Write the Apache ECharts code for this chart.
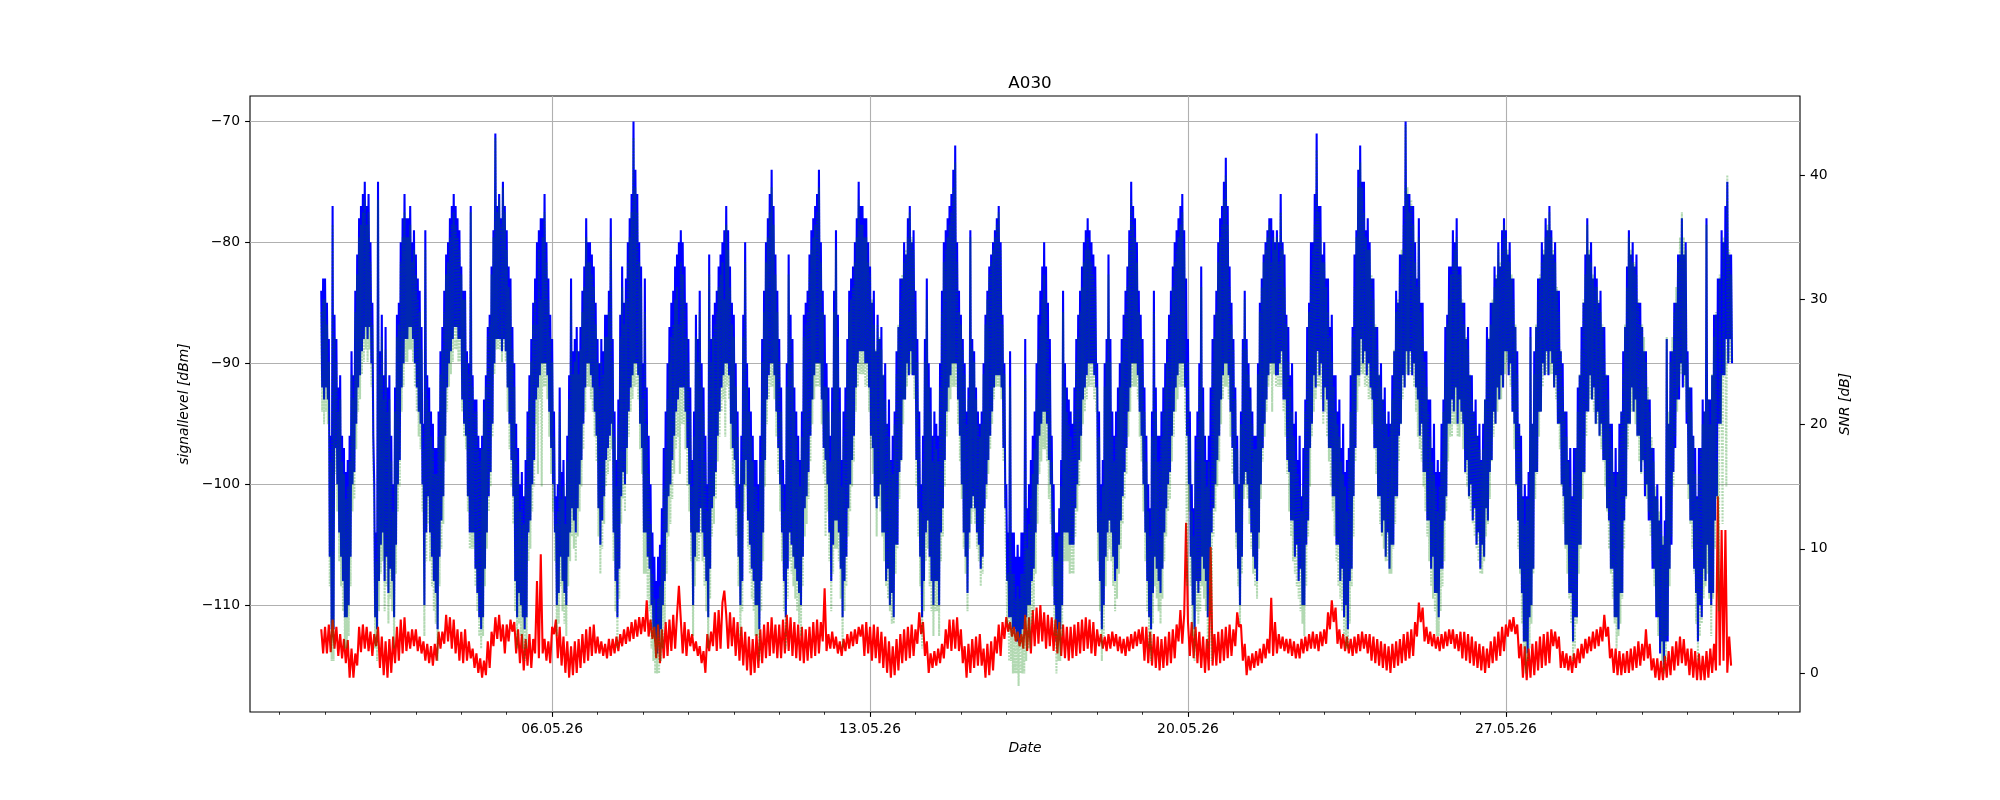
<!DOCTYPE html>
<html lang="en">
<head>
<meta charset="UTF-8">
<title>A030</title>
<script src="https://cdn.jsdelivr.net/npm/echarts@6/dist/echarts.min.js"></script>
<style>
  html, body { margin: 0; padding: 0; background: #fff; }
  #main { width: 2000px; height: 800px; }
</style>
</head>
<body>
<div id="main"></div>
<script type="text/javascript">
  // hourly readings, first one at 30.04.26 22:00
  // each hour has the upper and the lower value of the signal inside that hour
  var seriesStart = new Date(2026, 3, 30, 22, 0).getTime();
  var hour = 3600 * 1000;

  // signal level [dBm], upper value per hour (one row per day)
  var signalHigh = [
    -84,-83,
    -83,-85,-88,-96,-77,-86,-88,-92,-91,-96,-97,-99,-98,-96,-89,-91,-84,-81,-78,-77,-76,-75,-77,-76,
    -80,-85,-100,-104,-75,-89,-86,-91,-87,-92,-91,-96,-100,-92,-86,-85,-80,-78,-76,-78,-78,-77,-80,-79,
    -81,-83,-84,-87,-95,-79,-91,-92,-94,-95,-97,-97,-94,-89,-87,-84,-81,-80,-78,-77,-76,-77,-78,-79,
    -82,-84,-84,-89,-90,-77,-91,-93,-93,-96,-97,-96,-93,-91,-87,-86,-82,-79,-71,-77,-76,-78,-75,-77,
    -79,-82,-83,-87,-90,-95,-97,-100,-99,-101,-98,-94,-91,-88,-85,-83,-80,-79,-78,-78,-76,-80,-83,-86,
    -88,-94,-101,-100,-92,-99,-98,-101,-96,-91,-83,-89,-88,-87,-89,-87,-84,-82,-78,-80,-80,-81,-82,-85,
    -88,-90,-88,-89,-86,-86,-84,-78,-88,-94,-98,-93,-86,-82,-85,-83,-80,-78,-76,-70,-74,-76,-80,-82,
    -90,-83,-92,-96,-100,-104,-106,-108,-106,-105,-102,-97,-94,-90,-87,-85,-84,-82,-81,-80,-79,-80,-82,-85,
    -88,-92,-98,-94,-86,-88,-84,-90,-92,-96,-100,-81,-88,-86,-85,-84,-82,-81,-80,-79,-77,-79,-82,-85,
    -86,-90,-94,-100,-96,-86,-80,-90,-92,-94,-96,-98,-98,-100,-96,-88,-84,-80,-78,-76,-74,-77,-81,-84,
    -88,-92,-98,-100,-90,-81,-86,-88,-92,-94,-96,-98,-94,-86,-85,-84,-81,-79,-78,-77,-76,-74,-80,-84,
    -86,-90,-92,-96,-92,-84,-79,-86,-92,-98,-94,-92,-88,-84,-83,-82,-80,-78,-75,-77,-77,-78,-78,-80,
    -82,-85,-84,-89,-86,-88,-87,-91,-90,-95,-93,-98,-96,-94,-89,-87,-83,-83,-80,-81,-78,-77,-80,-79,
    -84,-88,-94,-100,-96,-88,-83,-90,-92,-96,-94,-95,-96,-90,-84,-80,-79,-78,-77,-76,-74,-72,-80,-84,
    -86,-88,-90,-94,-92,-79,-88,-89,-92,-94,-95,-94,-90,-86,-84,-82,-81,-80,-79,-78,-77,-80,-86,-90,
    -100,-104,-89,-104,-104,-106,-105,-106,-104,-104,-88,-102,-100,-98,-96,-94,-90,-86,-84,-82,-80,-82,-85,-88,
    -96,-100,-104,-104,-102,-98,-84,-90,-92,-93,-94,-95,-92,-88,-86,-84,-82,-80,-79,-78,-79,-80,-81,-82,
    -90,-94,-100,-98,-90,-88,-81,-88,-94,-96,-94,-92,-90,-88,-86,-84,-82,-79,-75,-77,-78,-80,-84,-86,
    -88,-92,-96,-100,-102,-94,-84,-92,-96,-96,-94,-92,-90,-88,-86,-84,-82,-80,-79,-78,-77,-76,-79,-83,
    -88,-94,-100,-102,-96,-94,-90,-82,-92,-96,-98,-96,-92,-88,-86,-84,-80,-78,-77,-75,-73,-77,-82,-85,
    -88,-92,-96,-100,-94,-88,-84,-88,-90,-92,-94,-96,-96,-90,-85,-83,-81,-80,-79,-78,-78,-79,-80,-79,
    -80,-76,-80,-81,-86,-87,-91,-90,-95,-94,-98,-96,-101,-97,-93,-87,-85,-80,-80,-76,-71,-77,-77,-81,
    -80,-83,-83,-87,-86,-91,-91,-94,-93,-97,-95,-99,-98,-97,-91,-87,-81,-79,-74,-72,-75,-75,-79,-78,
    -80,-83,-83,-87,-87,-91,-90,-93,-92,-95,-94,-95,-91,-89,-84,-85,-81,-81,-77,-70,-76,-76,-77,-77,
    -80,-83,-78,-85,-85,-89,-89,-93,-93,-97,-95,-99,-98,-99,-95,-93,-87,-86,-82,-82,-79,-80,-78,-82,
    -82,-85,-85,-88,-87,-91,-91,-94,-93,-96,-95,-98,-95,-93,-87,-88,-85,-85,-82,-83,-80,-82,-79,-78,
    -79,-81,-80,-83,-83,-87,-89,-95,-96,-101,-100,-101,-99,-87,-95,-89,-87,-83,-83,-80,-81,-78,-79,-77,
    -79,-81,-80,-84,-84,-89,-90,-94,-94,-98,-97,-101,-97,-97,-92,-91,-87,-85,-81,-78,-81,-80,-83,-82,
    -83,-85,-84,-87,-87,-91,-91,-95,-95,-99,-97,-99,-95,-94,-89,-87,-82,-79,-81,-80,-82,-81,-85,-85,
    -87,-89,-89,-93,-93,-97,-97,-101,-100,-103,-101,-105,-103,-88,-95,-89,-89,-85,-85,-81,-81,-78,-81,-80,
    -89,-92,-92,-96,-97,-101,-97,-97,-93,-94,-78,-93,-93,-91,-86,-86,-83,-83,-79,-80,-77,-75,-81,-81
  ];

  // signal level [dBm], lower value per hour
  var signalLow = [
    -92,-93,
    -92,-93,-106,-112,-112,-97,-100,-104,-106,-108,-111,-111,-110,-106,-100,-99,-95,-92,-91,-89,-88,-87,-88,-87,
    -90,-96,-111,-112,-108,-105,-104,-108,-106,-109,-107,-108,-111,-105,-100,-98,-92,-90,-88,-88,-87,-87,-88,-90,
    -92,-94,-95,-100,-110,-104,-101,-104,-106,-108,-109,-112,-106,-103,-101,-96,-92,-90,-89,-88,-87,-87,-88,-88,
    -93,-95,-96,-101,-104,-104,-104,-107,-109,-111,-112,-111,-107,-104,-101,-99,-95,-90,-88,-88,-88,-89,-88,-89,
    -92,-95,-98,-101,-108,-111,-109,-110,-111,-112,-111,-104,-103,-100,-98,-93,-92,-91,-90,-90,-90,-91,-94,-97,
    -100,-104,-110,-109,-106,-108,-109,-110,-106,-104,-102,-103,-104,-102,-100,-98,-95,-92,-90,-90,-91,-92,-94,-96,
    -102,-105,-103,-101,-98,-97,-96,-95,-104,-108,-111,-107,-101,-99,-100,-97,-94,-92,-91,-90,-90,-91,-95,-97,
    -104,-104,-106,-107,-110,-112,-113,-114,-113,-112,-110,-108,-104,-101,-100,-98,-96,-94,-93,-92,-92,-92,-94,-97,
    -100,-104,-110,-106,-104,-104,-102,-104,-106,-108,-111,-107,-102,-101,-99,-96,-94,-92,-91,-90,-90,-91,-95,-97,
    -98,-102,-106,-110,-108,-100,-98,-103,-105,-107,-108,-110,-110,-112,-108,-104,-98,-93,-91,-90,-90,-91,-94,-97,
    -100,-104,-108,-111,-107,-104,-105,-106,-107,-108,-109,-110,-106,-102,-101,-99,-96,-93,-91,-90,-90,-90,-93,-97,
    -98,-100,-104,-108,-105,-103,-103,-104,-107,-111,-108,-106,-102,-100,-98,-96,-92,-90,-89,-89,-89,-90,-90,-92,
    -96,-97,-101,-102,-101,-100,-104,-104,-108,-107,-110,-109,-111,-105,-105,-99,-98,-93,-93,-90,-91,-89,-91,-91,
    -98,-102,-106,-111,-108,-104,-103,-106,-108,-110,-108,-108,-110,-104,-102,-98,-94,-92,-91,-90,-90,-90,-93,-96,
    -100,-104,-106,-109,-104,-102,-101,-102,-104,-105,-107,-106,-102,-100,-98,-96,-94,-92,-91,-91,-91,-92,-97,-102,
    -108,-111,-111,-112,-112,-113,-113,-113,-112,-112,-111,-110,-110,-108,-107,-104,-100,-96,-95,-94,-94,-95,-98,-100,
    -106,-110,-113,-112,-112,-110,-104,-104,-104,-105,-105,-105,-102,-100,-98,-96,-93,-92,-91,-90,-90,-90,-91,-92,
    -104,-108,-112,-110,-106,-104,-103,-104,-106,-108,-107,-105,-103,-101,-99,-97,-94,-92,-90,-90,-90,-91,-94,-96,
    -100,-104,-108,-111,-112,-109,-106,-107,-108,-109,-107,-104,-102,-100,-99,-96,-94,-92,-91,-90,-90,-90,-92,-96,
    -100,-106,-110,-112,-108,-109,-108,-106,-107,-108,-111,-108,-104,-102,-100,-98,-96,-93,-91,-90,-90,-91,-94,-97,
    -100,-104,-107,-110,-106,-100,-99,-100,-102,-104,-106,-107,-108,-104,-100,-97,-95,-93,-91,-90,-90,-90,-91,-91,
    -90,-89,-93,-93,-98,-99,-103,-103,-106,-105,-108,-107,-110,-110,-105,-103,-97,-95,-91,-92,-89,-91,-90,-94,
    -92,-93,-97,-97,-101,-101,-105,-105,-108,-107,-111,-110,-112,-108,-107,-101,-97,-91,-91,-88,-90,-89,-91,-90,
    -92,-93,-97,-97,-101,-101,-104,-103,-106,-104,-107,-105,-105,-101,-101,-96,-95,-91,-92,-89,-91,-89,-91,-90,
    -92,-93,-96,-95,-99,-99,-103,-103,-107,-106,-109,-109,-111,-107,-107,-103,-101,-95,-95,-93,-94,-92,-95,-93,
    -94,-95,-99,-98,-101,-100,-103,-102,-105,-104,-107,-105,-106,-102,-103,-99,-98,-94,-95,-92,-93,-91,-92,-89,
    -89,-91,-90,-94,-95,-100,-103,-107,-109,-113,-113,-114,-111,-110,-107,-99,-99,-94,-94,-90,-91,-89,-91,-89,
    -90,-92,-91,-95,-95,-100,-101,-105,-105,-109,-109,-113,-111,-111,-105,-105,-99,-99,-94,-94,-91,-93,-92,-95,
    -94,-96,-95,-98,-98,-102,-103,-107,-107,-111,-111,-112,-109,-109,-103,-101,-95,-95,-92,-94,-93,-96,-96,-99,
    -98,-101,-100,-103,-103,-107,-107,-111,-111,-114,-113,-115,-113,-113,-107,-105,-99,-97,-93,-93,-90,-92,-91,-95,
    -100,-103,-103,-107,-109,-113,-110,-111,-107,-108,-105,-109,-110,-109,-103,-101,-95,-95,-91,-91,-88,-90,-88,-90
  ];

  // noise level [dBm], one reading per hour
  var noiseLevel = [
    -112,-114,
    -111.8,-114,-111.6,-113.9,-111.2,-113.6,-111.8,-114.2,-112.4,-114.4,-112.8,-114.8,-112.9,-116,-113.6,-116,-114,-115,-111.8,-113.9,-111.6,-113.6,-111.8,-113.8,
    -112.2,-114.2,-112.4,-113.4,-111.8,-115.2,-112.6,-115.8,-113,-116,-112.8,-115.6,-112.6,-114.8,-111.8,-114.6,-111.2,-114,-111,-113.8,-112.2,-113.6,-112,-113.4,
    -112,-113.8,-112.6,-114,-113,-114.6,-113.2,-114.8,-113.4,-115,-113.2,-114.6,-112.2,-113.6,-112.2,-113.2,-110.8,-113,-111,-113.6,-111.2,-114,-112,-114.6,
    -112.2,-114.8,-112,-114.6,-113,-114.4,-113.6,-115.2,-114,-115.6,-114.4,-116,-114.6,-115.8,-113,-115.2,-112.2,-113.4,-111,-112.8,-110.8,-113,-111.6,-114,
    -111.6,-113,-111.2,-112.2,-111.4,-114,-112,-114.8,-112.4,-115.4,-112.8,-115,-112.4,-115.2,-112.8,-114,-108,-114.4,-105.8,-114,-112.8,-114.6,-113,-114.8,
    -111.8,-112.4,-111.2,-114.4,-111.8,-115,-112.6,-115.6,-113,-116,-113.4,-115.8,-113,-115.6,-112.8,-115.2,-112.4,-114.8,-112,-114.6,-111.8,-114.2,-111.6,-114,
    -112.6,-114,-113,-114.2,-113.2,-114.4,-112.8,-114.2,-112.8,-114,-112.6,-113.8,-112.4,-113.4,-112,-113.2,-111.8,-113,-111.4,-112.8,-111.2,-112.6,-111,-112.4,
    -111,-112.2,-109.6,-112.6,-111.2,-112.8,-111.8,-114.4,-111.6,-114.8,-112,-114.4,-111.4,-114.2,-111.2,-113.8,-110.8,-113.6,-110.8,-108.4,-111.2,-114,-111.4,-114.2,
    -112,-113.4,-112.4,-113.8,-113,-114.2,-113.4,-114.8,-113.8,-115.6,-112.4,-113.8,-112.2,-113.4,-110.6,-113.8,-110.4,-113.6,-109.8,-108.8,-110.8,-113.6,-110.6,-113.4,
    -111,-114.2,-111.4,-114.6,-111.8,-115,-112.2,-115.4,-112.6,-115.8,-112.8,-115.6,-112.4,-115.2,-112,-114.8,-111.6,-114.4,-111.4,-114.2,-111,-114,-111.6,-114.4,
    -111.6,-114.4,-111.2,-114,-110.8,-113.8,-111,-114.2,-111.4,-114.4,-111.6,-114.6,-111.8,-114.8,-112,-114.6,-111.8,-114.4,-111.4,-114.2,-111.2,-114,-111.4,-113,
    -108.6,-113.8,-112.4,-113.6,-112.2,-113.6,-112.6,-114,-113,-114.2,-112.8,-113.8,-112.4,-113.6,-112.2,-113.4,-112,-113.2,-111.8,-112.6,-111.6,-114.2,-111.4,-114,
    -111.8,-114.6,-111.6,-114.4,-111.8,-114.8,-112.2,-115.2,-112.6,-115.6,-113,-116,-113.4,-115.8,-112.8,-115.4,-112.4,-114.8,-112,-114.6,-111.8,-114.4,-111.6,-114.2,
    -112,-113.2,-110.6,-112.4,-111.4,-114.2,-113,-115.6,-114,-115.2,-113.8,-115,-113.6,-114.8,-113.2,-114.4,-112,-113.6,-111.2,-113.8,-111.2,-113.6,-111,-113.8,
    -112,-114.8,-113.4,-116,-113.2,-115.6,-112.8,-115.2,-112.6,-115,-112.4,-115,-113.6,-116,-113.2,-115.8,-113,-115.4,-112.6,-114,-111.6,-114.2,-111.4,-112.8,
    -111,-112.2,-111.4,-112.6,-111.8,-113,-112.2,-113.4,-112.4,-113.6,-110.8,-113.8,-111,-114,-110.4,-113.4,-110.2,-113.2,-110,-113,-110.6,-113.6,-110.8,-113.4,
    -111,-113.8,-111.2,-114,-111.4,-114.2,-111.6,-114.4,-111.8,-114.6,-111.8,-114.4,-111.6,-114.2,-111.4,-114,-111.2,-113.8,-111,-113.6,-111.2,-114,-111.4,-114.2,
    -112,-113.4,-112.4,-113.6,-112.6,-113.8,-112.4,-113.6,-112.2,-113.4,-112.4,-113.8,-112.6,-114,-112.8,-114.2,-112.6,-113.8,-112.4,-113.6,-112.2,-113.4,-112,-113.2,
    -111.8,-114.6,-111.8,-114.8,-112.2,-115,-112.4,-115.2,-112.6,-115.4,-112.8,-115.2,-112.6,-115,-112.2,-114.8,-112,-114.4,-111.6,-113,-110.4,-113.2,-110.8,-103.2,
    -111.4,-114.2,-111.4,-114.4,-111.8,-114.8,-112.2,-115.2,-112.6,-115.6,-112.8,-115.4,-105.2,-115,-112.4,-115,-112.2,-114.8,-112,-114.6,-111.8,-114.4,-111.6,-114.2,
    -112,-113.4,-110.6,-111.8,-111.6,-114.6,-113.2,-115.8,-114.2,-115.4,-114,-115.2,-113.8,-115,-113.6,-114.8,-113.2,-114.4,-112.8,-114,-109.4,-114.2,-111.4,-114,
    -112.4,-113.6,-112.6,-113.8,-112.8,-114,-112.8,-114.2,-113,-114.4,-113.2,-114.4,-112.8,-114,-112.6,-113.8,-112.4,-113.6,-112.2,-113.6,-112.4,-113.8,-112.2,-113.4,
    -112,-113.2,-110.6,-112,-109.6,-111.4,-110.2,-113.2,-112,-113.6,-112.4,-113.8,-112.6,-114,-112.8,-114.2,-112.6,-114,-112.4,-113.8,-112.2,-113.6,-112.4,-114,
    -112.4,-114.6,-112.6,-114.8,-112.8,-115,-113,-115.2,-113.2,-115.4,-113.4,-115.6,-113.2,-115.2,-113,-115,-112.8,-114.8,-112.4,-114.6,-112.2,-114.4,-112,-114.2,
    -111.4,-112.6,-109.8,-111.4,-110.2,-113,-111.8,-113.2,-112.2,-113.4,-112.4,-113.6,-112.6,-113.8,-112.4,-113.6,-112.2,-113.4,-112,-113.2,-112,-113.6,-112.4,-113.8,
    -112.2,-114.4,-112.2,-114.6,-112.4,-114.8,-112.6,-115,-113,-115.2,-113.2,-115.4,-113.4,-115.6,-113.6,-115.2,-113,-114.8,-112.6,-114.6,-112.2,-114.2,-111.8,-113.8,
    -111.6,-112.6,-111.2,-112.2,-111,-112.4,-111.6,-114.4,-113.2,-116,-113.4,-116.2,-113.6,-116,-113.2,-115.8,-113,-115.4,-112.6,-115.2,-112.4,-115,-112.2,-114.8,
    -112,-113.4,-112.2,-113.6,-112.6,-115.2,-113.8,-115.2,-114,-115.4,-114.2,-115.6,-114,-115.2,-113.6,-114.8,-113.2,-114.4,-112.8,-114,-112.6,-113.8,-112.2,-113.6,
    -112,-113.4,-111.8,-113,-110.8,-112.6,-111.8,-114.4,-113.6,-115.6,-113.6,-115.8,-113.8,-115.8,-114,-115.6,-113.8,-115.6,-113.6,-115.4,-113.4,-115.2,-113,-115,
    -113.2,-114.6,-112,-114.4,-113.2,-115.4,-114.4,-116,-114.4,-116.2,-114.6,-116.2,-114.2,-116,-113.8,-115.8,-113.4,-115.4,-113,-115,-112.6,-114.8,-112.8,-115,
    -113.6,-115.8,-113.6,-116,-113.8,-116.2,-114,-116.2,-114.2,-116.2,-113.8,-116,-113.6,-115.6,-113.2,-115.4,-101,-115,-103.8,-114.6,-103.8,-115.6,-112.6,-115
  ];

  // SNR [dB], upper value per hour
  var snrHigh = [
    29,30,
    30,28,25,17,36,27,25,21,22,17,16,14,15,17,24,22,29,32,35,36,37,38,36,37,
    33,28,13,9,38,24,27,22,26,21,22,17,13,21,27,28,33,35,37,35,35,36,33,34,
    32,30,29,26,18,34,22,21,19,18,16,16,19,24,26,29,32,33,35,36,37,36,35,34,
    32,30,30,25,24,37,23,21,21,18,17,18,21,23,27,28,32,35,43,37,38,36,39,37,
    34,31,30,26,23,18,16,13,14,12,15,19,22,25,28,30,28,34,30,35,37,33,30,27,
    25,19,12,13,21,14,15,12,17,22,30,24,25,26,24,26,29,31,35,33,33,32,31,28,
    25,23,25,24,27,27,29,35,25,19,15,20,27,31,28,30,33,35,37,43,39,37,33,31,
    22,29,20,16,12,8,6,4,6,7,10,15,18,22,25,27,28,30,31,28,33,32,30,27,
    25,21,15,19,27,25,29,23,21,17,13,32,25,27,28,29,31,32,33,30,36,34,31,28,
    27,23,19,13,17,27,33,23,21,19,17,15,15,13,17,25,29,33,35,37,39,36,32,29,
    25,21,15,13,23,32,27,25,21,19,17,15,19,27,28,29,32,34,35,36,37,39,33,29,
    23,23,21,17,21,29,34,27,21,15,19,21,25,29,30,31,33,35,38,36,36,35,35,33,
    32,30,28,26,28,27,26,24,22,20,19,17,16,20,24,28,30,32,33,34,35,37,35,34,
    29,25,19,13,17,25,30,23,21,17,19,18,17,23,29,33,34,35,36,37,39,41,33,29,
    28,26,24,20,22,35,26,25,22,20,19,20,24,28,30,32,33,34,35,36,37,34,28,24,
    12,8,23,8,8,6,7,6,8,8,24,10,12,14,16,18,22,26,28,30,32,30,27,24,
    17,13,9,9,11,15,29,23,21,20,19,18,21,25,27,29,31,33,34,35,34,33,32,31,
    23,19,13,15,23,25,32,25,19,17,19,21,23,25,27,29,31,34,38,36,35,33,29,27,
    25,21,17,13,11,19,29,21,17,17,19,21,23,25,27,29,31,33,34,35,36,37,34,20,
    25,19,13,11,17,19,23,31,21,17,15,17,13,25,27,29,33,35,36,38,40,36,31,28,
    26,22,18,14,20,26,30,26,24,22,20,18,18,24,29,31,33,34,35,36,33,35,34,35,
    33,37,34,31,28,25,23,21,19,17,16,15,13,15,21,25,29,32,34,36,42,37,35,33,
    33,31,29,27,25,23,21,20,19,17,16,15,13,17,21,27,31,35,39,41,39,37,35,34,
    34,32,30,28,26,24,23,22,21,20,19,20,22,26,29,30,32,34,36,44,39,37,38,36,
    33,31,35,29,27,25,23,21,19,17,16,15,13,15,17,21,25,28,30,32,33,34,35,32,
    32,30,28,27,26,24,22,21,20,19,18,17,18,22,26,27,28,30,31,32,34,33,34,36,
    35,34,33,32,30,28,24,20,17,14,12,14,14,27,20,24,28,30,32,33,34,35,36,37,
    35,34,33,31,29,26,23,21,19,17,15,14,16,18,21,24,26,30,32,36,34,33,32,31,
    31,30,29,28,26,24,22,20,18,16,15,16,18,21,24,28,31,35,34,33,33,32,30,28,
    28,27,25,23,21,19,17,15,14,13,12,11,11,27,21,25,27,29,31,33,35,37,35,34,
    25,23,21,19,16,14,16,18,20,21,36,22,20,24,27,29,17,32,24,35,26,40,34,32
  ];

  // SNR [dB], lower value per hour
  var snrLow = [
    21,20,
    21,20,7,1,1,16,13,9,7,5,2,2,3,7,13,14,18,21,22,24,25,26,25,26,
    23,17,2,1,5,8,9,5,7,4,6,5,2,8,13,15,21,23,25,25,26,26,25,23,
    21,19,18,13,3,9,12,9,7,5,4,1,7,10,12,17,21,23,24,25,26,26,25,25,
    21,19,18,13,10,10,10,7,5,3,2,3,7,10,13,15,19,24,26,26,26,25,26,25,
    21,18,15,12,5,2,4,3,2,1,2,9,10,13,15,20,16,22,15,23,23,22,19,16,
    13,9,3,4,7,5,4,3,7,9,11,10,9,11,13,15,18,21,23,23,22,21,19,17,
    11,8,10,12,15,16,17,18,9,5,2,6,12,14,13,16,19,21,22,23,23,22,18,16,
    8,8,6,5,2,1,0,0,0,1,2,4,8,11,12,14,16,18,19,16,20,20,18,15,
    13,9,3,7,9,9,11,9,7,5,2,6,11,12,14,17,19,21,22,19,23,22,18,16,
    15,11,7,3,5,13,15,10,8,6,5,3,3,1,5,9,15,20,22,23,23,22,19,16,
    13,9,5,2,6,9,8,7,6,5,4,3,7,11,12,14,17,20,22,23,23,23,20,16,
    11,13,9,5,8,10,10,9,6,2,5,7,11,13,15,17,21,23,24,24,24,23,23,21,
    18,16,14,11,14,13,11,9,7,6,5,4,4,8,10,14,17,20,22,23,24,24,24,22,
    15,11,7,2,5,9,10,7,5,3,5,5,3,9,11,15,19,21,22,23,23,23,20,17,
    14,10,8,5,10,12,13,12,10,9,7,8,12,14,16,18,20,22,23,23,23,22,17,12,
    4,1,1,0,0,0,-1,0,0,0,1,2,2,4,5,8,12,16,17,18,18,17,14,12,
    7,3,0,1,1,3,9,9,9,8,8,8,11,13,15,17,20,21,22,23,23,23,22,21,
    9,5,1,3,7,9,10,9,7,5,6,8,10,12,14,16,19,21,23,23,23,22,19,17,
    13,9,5,2,1,4,7,6,5,4,6,9,11,13,14,17,19,21,22,23,23,23,21,7,
    13,7,3,1,5,4,5,7,6,5,2,5,1,11,13,15,17,20,22,23,23,22,19,16,
    14,10,7,4,8,14,15,14,12,10,8,7,6,10,14,17,19,21,23,24,21,24,23,23,
    23,23,21,19,16,13,11,9,8,7,6,5,4,3,7,11,15,19,21,22,23,23,22,20,
    21,19,17,15,13,11,9,7,6,5,3,2,2,4,7,11,17,21,23,24,24,23,23,22,
    22,20,18,16,14,12,11,10,9,9,8,8,10,12,14,17,20,22,23,24,24,24,24,23,
    21,19,18,17,15,13,11,9,7,6,5,3,3,5,7,9,13,17,19,19,20,20,19,19,
    20,18,16,15,14,13,12,11,10,9,8,8,9,11,12,14,17,19,20,21,22,22,23,24,
    25,24,23,21,18,15,10,8,4,2,0,1,2,4,8,14,16,19,21,23,24,24,24,24,
    24,23,22,20,18,15,12,10,8,6,4,1,2,4,8,10,14,16,19,21,22,22,21,20,
    20,19,18,17,15,13,10,8,6,4,2,3,4,6,10,14,18,20,21,21,20,19,17,16,
    17,15,14,13,11,9,7,5,3,2,1,0,1,3,7,11,15,19,21,23,24,24,23,21,
    14,12,10,8,4,1,3,4,6,7,8,6,3,6,10,14,5,20,12,24,15,25,25,25
  ];

  // axis ticks
  var weekTicks = [new Date(2026, 4, 6).getTime(), new Date(2026, 4, 13).getTime(),
                   new Date(2026, 4, 20).getTime(), new Date(2026, 4, 27).getTime()];
  var leftTicks = [-110, -100, -90, -80, -70];
  var rightTicks = [0, 10, 20, 30, 40];

  var xMin = new Date(2026, 3, 29, 8, 21).getTime();
  var xMax = new Date(2026, 5, 2, 11, 25).getTime();

  // daily minor ticks
  var dayTicks = [];
  for (var d = new Date(2026, 3, 30); d.getTime() < xMax; d = new Date(d.getFullYear(), d.getMonth(), d.getDate() + 1)) {
    dayTicks.push(d.getTime());
  }

  // upper value on the full hour, lower value half an hour later
  function zigzag(high, low) {
    var out = [];
    for (var i = 0; i < high.length; i++) {
      out.push([seriesStart + i * hour, high[i]]);
      out.push([seriesStart + i * hour + hour / 2, low[i]]);
    }
    return out;
  }
  function toPairs(values) {
    return values.map(function (v, i) { return [seriesStart + i * hour, v]; });
  }
  function pad(n) { return n < 10 ? '0' + n : '' + n; }
  function dateLabel(v) {
    var d = new Date(v);
    return pad(d.getDate()) + '.' + pad(d.getMonth() + 1) + '.' + String(d.getFullYear()).slice(2);
  }
  function minus(v) { return v < 0 ? '\u2212' + Math.abs(v) : '' + v; }

  var font = 'DejaVu Sans';
  var tickLine = { color: '#000', width: 1.1 };
  var labelStyle = { color: '#000', fontSize: 13.9, fontFamily: font };
  var nameStyle = { color: '#000', fontSize: 13.9, fontFamily: font, fontStyle: 'italic' };

  var chartDom = document.getElementById('main');
  var myChart = echarts.init(chartDom, null, { renderer: 'canvas' });
  var option;

  option = {
    animation: false,
    backgroundColor: '#fff',
    title: {
      text: 'A030',
      left: 1025,
      top: 70,
      textAlign: 'center',
      textStyle: { color: '#000', fontSize: 16.7, fontWeight: 'normal', fontFamily: font }
    },
    grid: {
      left: 250, right: 200, top: 96, bottom: 88,
      show: true, borderColor: '#000', borderWidth: 1.1, backgroundColor: 'transparent'
    },
    xAxis: [
      {
        type: 'value', position: 'bottom', min: xMin, max: xMax,
        axisLine: { show: false, onZero: false },
        axisTick: { show: true, customValues: dayTicks, length: 2.8, lineStyle: { color: '#000', width: 0.8 } },
        axisLabel: { show: false },
        splitLine: { show: false }
      },
      {
        type: 'value', position: 'bottom', offset: 0, min: xMin, max: xMax,
        name: 'Date', nameLocation: 'middle', nameGap: 29, nameTextStyle: nameStyle,
        axisLine: { show: false, onZero: false },
        axisTick: { show: true, customValues: weekTicks, length: 4.9, lineStyle: tickLine },
        axisLabel: Object.assign({ customValues: weekTicks, margin: 10, formatter: dateLabel }, labelStyle),
        splitLine: { show: true, lineStyle: { color: '#b0b0b0', width: 1.1 } }
      }
    ],
    yAxis: [
      {
        type: 'value', position: 'left', min: -118.84, max: -67.9,
        name: 'signallevel [dBm]', nameLocation: 'middle', nameRotate: 90, nameGap: 55, nameTextStyle: nameStyle,
        axisLine: { show: false, onZero: false },
        axisTick: { show: true, customValues: leftTicks, length: 4.9, lineStyle: tickLine },
        axisLabel: Object.assign({ customValues: leftTicks, margin: 10, formatter: minus }, labelStyle),
        splitLine: { show: true, lineStyle: { color: '#b0b0b0', width: 1.1 } }
      },
      {
        type: 'value', position: 'right', min: -3.09, max: 46.33,
        name: 'SNR [dB]', nameLocation: 'middle', nameRotate: 90, nameGap: 31, nameTextStyle: nameStyle,
        axisLine: { show: false, onZero: false },
        axisTick: { show: true, customValues: rightTicks, length: 4.9, lineStyle: tickLine },
        axisLabel: Object.assign({ customValues: rightTicks, margin: 10, formatter: minus }, labelStyle),
        splitLine: { show: false }
      }
    ],
    series: [
      {
        name: 'signallevel', type: 'line', xAxisIndex: 0, yAxisIndex: 0, z: 2,
        symbol: 'none', silent: true, color: '#0000ff',
        lineStyle: { color: '#0000ff', width: 2.08 },
        data: zigzag(signalHigh, signalLow)
      },
      {
        name: 'noiselevel', type: 'line', xAxisIndex: 0, yAxisIndex: 0, z: 3,
        symbol: 'none', silent: true, color: '#ff0000',
        lineStyle: { color: '#ff0000', width: 2.08 },
        data: toPairs(noiseLevel)
      },
      {
        name: 'SNR', type: 'line', xAxisIndex: 0, yAxisIndex: 1, z: 4,
        symbol: 'none', silent: true, color: '#008000',
        lineStyle: { color: '#008000', width: 2.08, opacity: 0.3, type: [2, 1.2], cap: 'butt' },
        data: zigzag(snrHigh, snrLow)
      }
    ]
  };

  option && myChart.setOption(option);
</script>
</body>
</html>
